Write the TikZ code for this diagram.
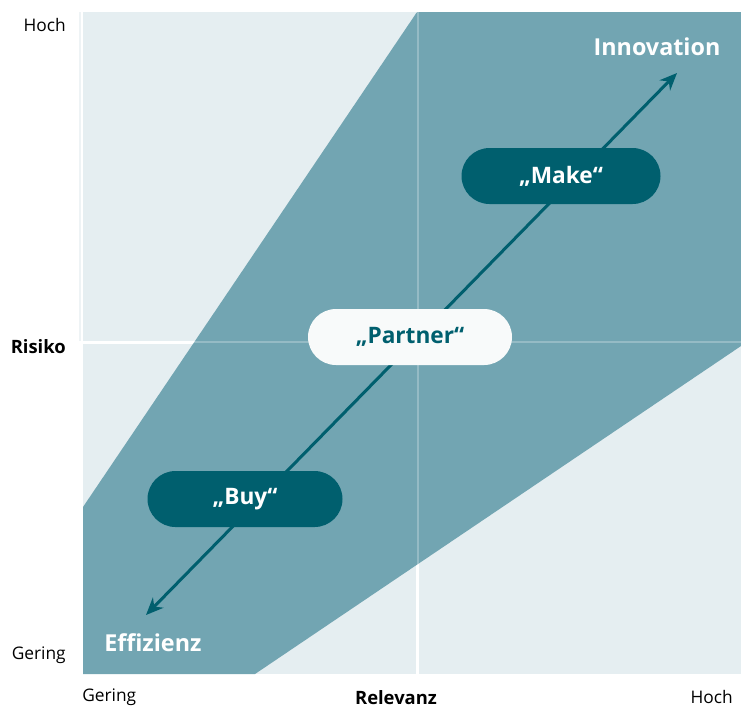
\documentclass[tikz,border=0pt]{standalone}
\usepackage{fontspec}
\setmainfont{Open Sans}
\newfontfamily\pillfont{Open Sans}
\usetikzlibrary{arrows.meta,positioning}

\definecolor{bgblue}{HTML}{E5EEF1}
\definecolor{bandteal}{HTML}{72A5B2}
\definecolor{darkteal}{HTML}{005F6E}
\definecolor{pillwhite}{HTML}{F8FAFA}
\definecolor{edgeline}{HTML}{EEF3F5}

\begin{document}
\begin{tikzpicture}[x=0.75pt, y=-0.75pt,
  axislabel/.style={font=\fontsize{13}{15}\selectfont, text=black, inner sep=0pt},
  axistitle/.style={axislabel, font=\fontsize{13.8}{15}\selectfont\bfseries},
  corner/.style={font=\pillfont\fontsize{17.5}{19}\selectfont\bfseries, text=white, inner sep=0pt},
  pill/.style={rounded corners=28*0.75pt, minimum height=56*0.75pt, inner sep=0pt,
    font=\pillfont\fontsize{17}{19}\selectfont\bfseries},
  darkpill/.style={pill, fill=darkteal, text=white},
  lightpill/.style={pill, fill=pillwhite, text=darkteal},
  arr/.style={draw=darkteal, line width=2.25pt, {Stealth[length=13pt,width=11pt]}-{Stealth[length=13pt,width=11pt]}}]
  \useasboundingbox (0,0) rectangle (741,708);
  % background and quadrant lines
  \fill[bgblue] (83,12) rectangle (741,674);
  \fill[edgeline] (79,12) rectangle (81,341);
  \draw[white, line width=2.25pt] (417,12) -- (417,674);
  \draw[white, line width=2.25pt] (79,342) -- (741,342);
  % band
  \fill[bandteal] (83,507) -- (417,12) -- (741,12) -- (741,346) -- (255,674) -- (83,674) -- cycle;
  \draw[white, opacity=0.25, line width=1.5pt] (418,12) -- (418,674);
  \draw[white, opacity=0.25, line width=1.5pt] (83,342) -- (741,342);
  % axis labels
  \node[axislabel, anchor=east] (hochy) at (66,25) {Hoch};
  \node[axistitle, anchor=east] (risiko) at (66,347) {Risiko};
  \node[axislabel, anchor=east] (geringy) at (66,655) {Gering};
  \node[axislabel, anchor=west] (geringx) at (82,697) {Gering};
  \node[axistitle] (relevanz) at (396,698) {Relevanz};
  \node[axislabel, anchor=east] (hochx) at (733,697) {Hoch};
  % arrow and ends
  \node[corner] (innovation) at (657,47) {Innovation};
  \node[corner, anchor=west] (effizienz) at (104,643) {Effizienz};
  \coordinate (effend) at (146,615);
  \coordinate (innend) at (677,73);
  \draw[arr] (effend) -- (innend);
  % pills
  \node[darkpill, minimum width=199*0.75pt] (make) at (561,176) {„Make“};
  \node[lightpill, minimum width=204*0.75pt] (partner) at (410,337) {„Partner“};
  \node[darkpill, minimum width=195*0.75pt] (buy) at (245,499) {„Buy“};
\end{tikzpicture}
\end{document}
